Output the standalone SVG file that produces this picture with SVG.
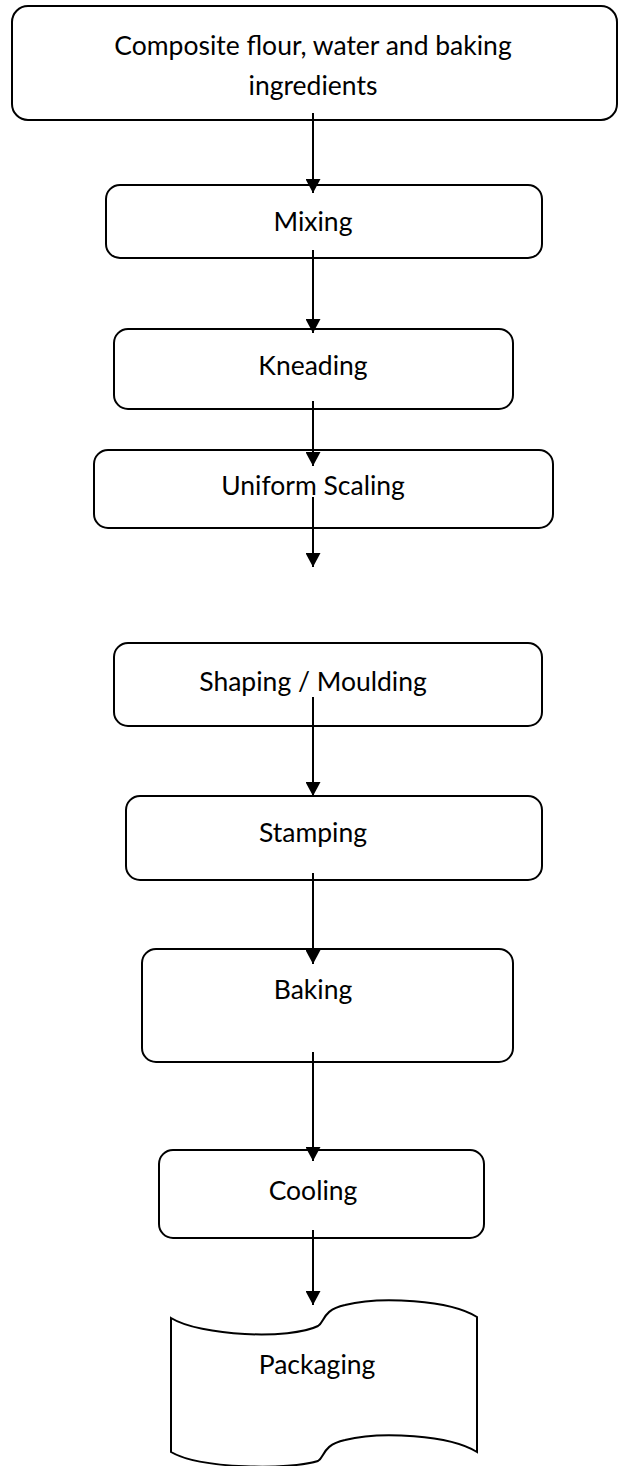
<svg xmlns="http://www.w3.org/2000/svg" width="618" height="1466" viewBox="0 0 618 1466">
  <style>
    .box { fill: #ffffff; stroke: #000000; stroke-width: 2; }
    .lbl { font-family: Lato, "Liberation Sans", sans-serif; font-size: 26.5px; fill: #000000; text-anchor: middle; }
    .link { stroke: #000000; stroke-width: 2; fill: none; marker-end: url(#head); }
  </style>
  <defs>
    <!-- filled triangular arrowhead, tip at the end of the line -->
    <marker id="head" viewBox="0 0 14 15" refX="14" refY="7.5" markerWidth="14" markerHeight="15" markerUnits="userSpaceOnUse" orient="auto">
      <path d="M0,0 L14,7.5 L0,15 Z" fill="#000000"/>
    </marker>
  </defs>
  <rect width="618" height="1466" fill="#ffffff"/>

  <g id="ingredients">
    <rect class="box" x="12" y="6" width="605" height="114" rx="16"/>
    <text class="lbl" x="313" y="55">Composite flour, water and baking</text>
    <text class="lbl" x="313" y="95">ingredients</text>
  </g>
  <g id="mixing">
    <rect class="box" x="106" y="185" width="436" height="73" rx="14"/>
    <text class="lbl" x="313" y="231">Mixing</text>
  </g>
  <g id="kneading">
    <rect class="box" x="114" y="329" width="399" height="80" rx="14"/>
    <text class="lbl" x="313" y="375">Kneading</text>
  </g>
  <g id="uniform-scaling">
    <rect class="box" x="94" y="450" width="459" height="78" rx="14"/>
    <text class="lbl" x="313" y="495">Uniform Scaling</text>
  </g>
  <g id="shaping">
    <rect class="box" x="114" y="643" width="428" height="83" rx="14"/>
    <text class="lbl" x="313" y="691">Shaping / Moulding</text>
  </g>
  <g id="stamping">
    <rect class="box" x="126" y="796" width="416" height="84" rx="14"/>
    <text class="lbl" x="313" y="842">Stamping</text>
  </g>
  <g id="baking">
    <rect class="box" x="142" y="949" width="371" height="113" rx="14"/>
    <text class="lbl" x="313" y="999">Baking</text>
  </g>
  <g id="cooling">
    <rect class="box" x="159" y="1150" width="325" height="88" rx="14"/>
    <text class="lbl" x="313" y="1200">Cooling</text>
  </g>
  <g id="packaging">
    <path class="box" d="M171,1318 C200,1336 290,1340 318,1326 C325,1322 322,1310 345,1305 C380,1296 450,1300 477,1317 L477,1452 C450,1435 380,1431 345,1440 C322,1445 325,1457 318,1461 C290,1470 200,1469 171,1452 Z"/>
    <text class="lbl" x="317" y="1374">Packaging</text>
  </g>

  <g id="connectors">
    <line class="link" x1="313" y1="113" x2="313" y2="193"/>
    <line class="link" x1="313" y1="250" x2="313" y2="333"/>
    <line class="link" x1="313" y1="401" x2="313" y2="466"/>
    <line class="link" x1="313" y1="497" x2="313" y2="567"/>
    <line class="link" x1="313" y1="697" x2="313" y2="796"/>
    <line class="link" x1="313" y1="873" x2="313" y2="964"/>
    <line class="link" x1="313" y1="1052" x2="313" y2="1161"/>
    <line class="link" x1="313" y1="1230" x2="313" y2="1305"/>
  </g>
</svg>
